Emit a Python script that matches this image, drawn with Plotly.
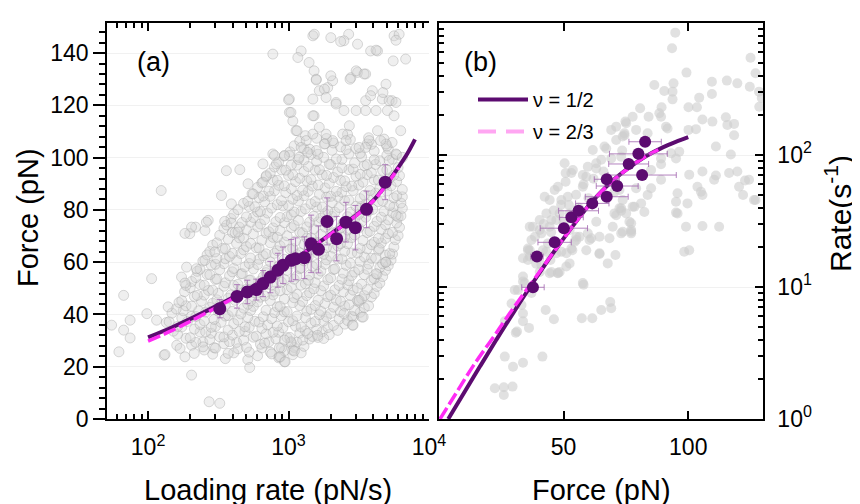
import plotly.graph_objects as go

FONT = "Liberation Sans, Arial, sans-serif"
PURPLE = "#5c0b70"
MAGENTA = "#ff2bf5"
ERRC = "rgba(160,100,175,0.8)"

# ---------------- panel (a): force vs loading rate ----------------
# dense core of single-molecule events, read as log10(loading rate) and force
core_log_rate_a = [
    2.46, 2.55, 2.61, 2.71, 2.78, 2.87, 2.93, 3.03,
    2.40, 2.47, 2.57, 2.64, 2.72, 2.81, 2.88, 2.97, 3.04, 3.09,
    2.31, 2.39, 2.48, 2.54, 2.63, 2.70, 2.80, 2.86, 2.95, 3.02, 3.11,
    2.27, 2.34, 2.44, 2.51, 2.58, 2.68, 2.75, 2.83, 2.91, 2.99, 3.06, 3.15, 3.21,
    2.21, 2.30, 2.37, 2.45, 2.54, 2.60, 2.69, 2.77, 2.84, 2.93, 3.01, 3.08, 3.17, 3.24, 3.29,
    2.18, 2.24, 2.33, 2.41, 2.48, 2.57, 2.65, 2.72, 2.81, 2.89, 2.96, 3.05, 3.12, 3.20, 3.28, 3.35,
    2.13, 2.21, 2.28, 2.37, 2.45, 2.52, 2.61, 2.69, 2.76, 2.85, 2.92, 3.00, 3.09, 3.16, 3.25, 3.32, 3.40,
    2.15, 2.24, 2.31, 2.40, 2.47, 2.55, 2.64, 2.71, 2.79, 2.88, 2.95, 3.03, 3.12, 3.19, 3.27, 3.36, 3.42, 3.46,
    2.17, 2.25, 2.34, 2.41, 2.50, 2.57, 2.66, 2.73, 2.82, 2.90, 2.97, 3.06, 3.13, 3.22, 3.30, 3.37, 3.45, 3.51,
    2.20, 2.27, 2.36, 2.44, 2.51, 2.60, 2.68, 2.75, 2.84, 2.92, 2.99, 3.08, 3.16, 3.23, 3.32, 3.40, 3.47, 3.54,
    2.22, 2.31, 2.38, 2.46, 2.55, 2.62, 2.71, 2.78, 2.87, 2.94, 3.03, 3.10, 3.19, 3.26, 3.34, 3.43, 3.50, 3.57,
    2.24, 2.33, 2.40, 2.49, 2.57, 2.64, 2.73, 2.80, 2.89, 2.97, 3.04, 3.13, 3.21, 3.28, 3.37, 3.44, 3.52, 3.59,
    2.26, 2.35, 2.43, 2.50, 2.59, 2.66, 2.75, 2.83, 2.90, 2.99, 3.06, 3.15, 3.23, 3.30, 3.39, 3.46, 3.54, 3.61,
    2.30, 2.37, 2.46, 2.54, 2.61, 2.70, 2.78, 2.85, 2.94, 3.02, 3.09, 3.18, 3.25, 3.33, 3.42, 3.49, 3.56, 3.63,
    2.31, 2.40, 2.48, 2.55, 2.64, 2.72, 2.80, 2.88, 2.95, 3.04, 3.12, 3.19, 3.28, 3.36, 3.43, 3.52, 3.59, 3.65,
    2.34, 2.42, 2.49, 2.58, 2.66, 2.73, 2.82, 2.90, 2.97, 3.06, 3.14, 3.21, 3.30, 3.38, 3.45, 3.54, 3.61, 3.67,
    2.35, 2.44, 2.51, 2.60, 2.67, 2.75, 2.84, 2.91, 2.99, 3.08, 3.15, 3.23, 3.32, 3.39, 3.47, 3.56, 3.63, 3.69,
    2.37, 2.45, 2.54, 2.61, 2.69, 2.78, 2.85, 2.93, 3.02, 3.09, 3.17, 3.26, 3.33, 3.41, 3.50, 3.57, 3.65, 3.71,
    2.39, 2.48, 2.55, 2.63, 2.72, 2.79, 2.87, 2.96, 3.03, 3.11, 3.20, 3.27, 3.35, 3.44, 3.51, 3.59, 3.67, 3.73,
    2.42, 2.49, 2.58, 2.66, 2.73, 2.82, 2.90, 2.97, 3.06, 3.14, 3.21, 3.30, 3.38, 3.45, 3.54, 3.62, 3.69, 3.74,
    2.44, 2.53, 2.60, 2.68, 2.77, 2.84, 2.92, 3.01, 3.08, 3.16, 3.25, 3.32, 3.40, 3.49, 3.56, 3.64, 3.72,
    2.46, 2.55, 2.63, 2.70, 2.79, 2.87, 2.94, 3.03, 3.11, 3.18, 3.27, 3.35, 3.42, 3.51, 3.59, 3.66, 3.75,
    2.49, 2.57, 2.65, 2.73, 2.81, 2.89, 2.97, 3.05, 3.13, 3.21, 3.29, 3.37, 3.45, 3.53, 3.61, 3.69, 3.76,
    2.51, 2.60, 2.68, 2.75, 2.84, 2.92, 2.99, 3.08, 3.16, 3.23, 3.32, 3.40, 3.47, 3.56, 3.64, 3.71, 3.78,
    2.54, 2.62, 2.70, 2.78, 2.86, 2.94, 3.02, 3.10, 3.18, 3.26, 3.34, 3.42, 3.50, 3.58, 3.66, 3.74, 3.79,
    2.56, 2.65, 2.73, 2.80, 2.89, 2.97, 3.04, 3.13, 3.21, 3.28, 3.37, 3.45, 3.52, 3.61, 3.69, 3.77,
    2.59, 2.67, 2.75, 2.83, 2.91, 2.99, 3.07, 3.15, 3.23, 3.31, 3.39, 3.47, 3.55, 3.63, 3.71, 3.78,
    2.61, 2.70, 2.78, 2.85, 2.94, 3.02, 3.09, 3.18, 3.26, 3.33, 3.42, 3.50, 3.57, 3.66, 3.74, 3.80,
    2.64, 2.72, 2.80, 2.88, 2.96, 3.04, 3.12, 3.20, 3.28, 3.36, 3.44, 3.52, 3.60, 3.68, 3.75, 3.81,
    2.68, 2.76, 2.83, 2.92, 3.00, 3.07, 3.16, 3.24, 3.31, 3.40, 3.48, 3.55, 3.64, 3.72, 3.80,
    2.71, 2.79, 2.87, 2.95, 3.03, 3.11, 3.19, 3.27, 3.35, 3.43, 3.51, 3.59, 3.67, 3.75, 3.81,
    2.74, 2.82, 2.90, 2.98, 3.06, 3.14, 3.22, 3.30, 3.38, 3.46, 3.54, 3.62, 3.70, 3.77,
    2.78, 2.86, 2.93, 3.02, 3.10, 3.17, 3.26, 3.34, 3.41, 3.50, 3.58, 3.65, 3.73, 3.81,
    2.81, 2.89, 2.97, 3.05, 3.13, 3.21, 3.29, 3.37, 3.45, 3.53, 3.61, 3.69, 3.77,
    2.84, 2.92, 3.00, 3.08, 3.16, 3.24, 3.32, 3.40, 3.48, 3.56, 3.64, 3.72, 3.79,
    2.87, 2.95, 3.03, 3.11, 3.19, 3.27, 3.35, 3.43, 3.51, 3.59, 3.67, 3.75,
    2.90, 2.98, 3.06, 3.14, 3.22, 3.30, 3.38, 3.46, 3.54, 3.62, 3.70, 3.78,
    2.93, 3.02, 3.11, 3.20, 3.29, 3.38, 3.47, 3.56, 3.65, 3.74,
    2.97, 3.07, 3.16, 3.25, 3.34, 3.43, 3.52, 3.61, 3.70, 3.77,
    3.01, 3.11, 3.21, 3.31, 3.41, 3.51, 3.61, 3.71,
    3.04, 3.15, 3.26, 3.37, 3.48, 3.59, 3.70,
    3.08, 3.20, 3.32, 3.44, 3.56, 3.68,
    3.12, 3.27, 3.42, 3.57,
]
core_force_a = [
    24.8, 23.1, 25.3, 22.7, 24.2, 25.6, 23.4, 24.6,
    26.4, 27.3, 25.1, 26.9, 25.6, 27.2, 24.9, 26.1, 27.4, 25.3,
    28.2, 29.4, 27.1, 28.8, 29.3, 27.4, 28.6, 29.5, 27.2, 28.9, 27.8,
    30.9, 29.3, 30.4, 31.4, 29.6, 30.2, 31.3, 29.1, 30.7, 31.1, 29.4, 30.6, 31.2,
    32.4, 31.1, 33.3, 32.8, 31.4, 32.1, 33.5, 31.7, 32.6, 33.2, 31.2, 32.9, 31.6, 33.4, 32.3,
    33.6, 35.2, 34.4, 33.3, 35.4, 34.0, 33.5, 35.1, 34.7, 33.2, 34.9, 35.5, 33.7, 34.3, 35.0, 33.9,
    36.9, 35.4, 37.3, 36.2, 35.1, 37.0, 36.5, 35.3, 37.4, 36.0, 35.6, 37.2, 35.2, 36.7, 37.5, 35.8, 36.3,
    37.2, 38.6, 39.3, 37.5, 38.1, 39.4, 37.8, 38.9, 37.1, 38.4, 39.5, 37.6, 38.8, 37.3, 39.1, 38.2, 37.7, 39.0,
    40.5, 41.4, 39.2, 40.9, 41.2, 39.6, 40.2, 41.5, 39.1, 40.7, 41.0, 39.4, 41.3, 39.9, 40.4, 41.1, 39.3, 40.8,
    42.1, 43.3, 41.4, 42.7, 43.5, 41.2, 42.4, 43.1, 41.6, 42.9, 41.1, 43.4, 42.0, 41.3, 42.8, 43.2, 41.5, 42.6,
    44.6, 43.2, 45.1, 44.3, 43.5, 45.4, 43.9, 44.8, 45.3, 43.1, 44.5, 45.0, 43.4, 44.2, 45.5, 43.7, 44.9, 43.3,
    45.3, 46.9, 47.4, 45.6, 46.2, 47.1, 45.2, 46.6, 47.5, 45.9, 46.4, 47.2, 45.4, 46.8, 45.1, 47.3, 46.0, 46.7,
    48.7, 47.3, 49.2, 48.1, 47.5, 49.4, 48.4, 47.1, 48.9, 49.5, 47.7, 48.3, 49.1, 47.4, 48.6, 49.3, 47.2, 48.0,
    50.2, 51.4, 49.3, 50.8, 51.1, 49.6, 50.5, 51.5, 49.1, 50.3, 51.2, 49.8, 50.9, 49.4, 51.3, 50.1, 49.5, 50.7,
    52.6, 51.2, 53.4, 52.1, 51.5, 53.1, 52.8, 51.3, 52.4, 53.5, 51.7, 52.2, 53.3, 51.1, 52.9, 51.6, 53.2, 52.0,
    54.1, 55.3, 53.6, 54.8, 55.5, 53.2, 54.4, 55.1, 53.4, 54.7, 53.1, 55.4, 54.0, 53.5, 54.9, 55.2, 53.7, 54.5,
    56.5, 55.2, 57.1, 56.3, 55.6, 57.4, 56.0, 55.3, 56.8, 57.5, 55.1, 56.6, 57.2, 55.8, 56.2, 57.3, 55.4, 56.9,
    57.3, 58.9, 59.4, 57.6, 58.2, 59.1, 57.1, 58.6, 59.5, 57.8, 58.4, 59.2, 57.4, 58.8, 57.2, 59.3, 58.0, 58.7,
    60.4, 59.2, 61.3, 60.7, 59.5, 61.1, 60.1, 59.3, 61.4, 60.5, 59.1, 60.9, 61.2, 59.6, 60.3, 61.5, 59.4, 60.8,
    62.8, 61.4, 62.2, 63.3, 61.6, 62.5, 63.4, 61.1, 62.9, 61.8, 63.2, 62.3, 61.2, 63.5, 62.0, 61.5, 62.7, 63.1,
    64.1, 65.3, 63.4, 64.7, 65.5, 63.2, 64.4, 65.0, 63.6, 64.9, 63.1, 65.4, 64.2, 63.5, 65.1, 64.6, 63.3,
    66.5, 65.1, 67.2, 66.0, 65.4, 67.4, 66.3, 65.2, 66.9, 67.5, 65.6, 66.2, 67.1, 65.3, 66.7, 67.3, 65.8,
    67.4, 68.8, 69.3, 67.2, 68.4, 69.5, 67.7, 68.1, 69.2, 67.5, 68.9, 67.1, 69.4, 68.3, 67.6, 69.1, 68.6,
    70.3, 71.4, 69.2, 70.8, 71.1, 69.5, 70.1, 71.5, 69.3, 70.6, 71.2, 69.7, 70.4, 71.3, 69.1, 70.9, 70.2,
    72.9, 71.3, 72.4, 73.5, 71.6, 72.1, 73.2, 71.2, 72.7, 73.4, 71.5, 72.3, 73.1, 71.8, 72.6, 71.4, 73.3,
    74.2, 73.4, 75.3, 74.6, 73.1, 75.1, 74.0, 73.5, 75.4, 74.4, 73.2, 74.8, 75.5, 73.7, 74.3, 75.0,
    76.7, 75.2, 77.1, 76.3, 75.5, 77.4, 76.0, 75.3, 76.8, 77.5, 75.1, 76.5, 77.2, 75.6, 76.2, 77.3,
    78.4, 77.3, 79.2, 78.8, 77.1, 78.1, 79.4, 77.6, 78.6, 79.1, 77.4, 78.3, 79.5, 77.2, 78.9, 77.7,
    80.1, 81.3, 79.4, 80.7, 81.5, 79.2, 80.4, 81.1, 79.6, 80.9, 79.1, 81.4, 80.2, 79.5, 81.2, 80.6,
    82.5, 81.2, 83.1, 82.0, 81.6, 83.4, 82.3, 81.1, 82.8, 83.5, 81.4, 82.2, 83.2, 81.7, 82.6,
    83.3, 84.7, 85.2, 83.5, 84.1, 85.4, 83.2, 84.9, 85.1, 83.7, 84.3, 85.5, 83.4, 84.6, 85.0,
    86.2, 85.3, 87.3, 86.6, 85.5, 87.1, 86.0, 85.2, 86.8, 87.4, 85.6, 86.4, 87.2, 85.4,
    88.6, 87.2, 89.4, 88.1, 87.5, 89.1, 88.4, 87.1, 88.9, 89.5, 87.4, 88.3, 89.2, 87.8,
    90.3, 91.4, 89.2, 90.8, 91.1, 89.5, 90.2, 91.3, 89.1, 90.6, 91.5, 89.4, 90.9,
    92.7, 91.3, 93.2, 92.1, 91.6, 93.4, 92.4, 91.1, 92.9, 93.5, 91.4, 92.2, 93.1,
    94.1, 95.3, 93.4, 94.7, 95.2, 93.2, 94.5, 95.4, 93.6, 94.2, 95.1, 93.3,
    96.4, 95.2, 97.1, 96.6, 95.4, 97.3, 96.1, 95.6, 96.9, 97.4, 95.3, 96.2,
    98.3, 97.2, 99.1, 98.6, 97.5, 99.3, 98.0, 97.3, 98.8, 99.4,
    100.6, 99.3, 101.2, 100.1, 99.5, 101.4, 100.3, 99.2, 100.9, 101.1,
    102.2, 103.4, 101.3, 102.8, 103.1, 101.6, 102.5, 103.3,
    104.5, 103.2, 105.3, 104.1, 103.5, 105.1, 104.4,
    106.3, 107.4, 105.6, 106.9, 105.2, 107.1,
    108.4, 107.3, 108.9, 107.6,
]
# sparse events around the core (loading rate in pN/s, force in pN)
sparse_rate_a = [
    55, 62, 67, 67, 74.5, 74.5, 98, 106, 115, 130, 139, 160, 173, 186, 204, 213, 183, 169,
    246, 272, 324, 529, 935, 875, 1070, 2850, 3330, 3100, 4900, 132, 188, 183, 221, 254,
    198, 218, 254, 268, 351, 392, 437, 299,
    124, 183, 204, 260, 361, 450, 333, 392, 515, 560, 657, 773, 773, 1014, 1014, 1073, 1130,
    1230, 1165, 1400, 1490, 1520, 1575, 1520, 1490, 1655, 1900, 2060, 2000, 2180, 2680, 2480,
    3100, 2780, 3100, 3540, 3840, 4300, 5640, 6130, 5820, 5560, 6820, 4940, 3950, 3540, 4650,
    5460, 5060, 4200, 5640, 6290, 5460, 4940, 5820, 6470, 5200, 3750, 3540, 3180, 2710, 2430,
    2570, 2060, 1850, 1655, 1800, 1575, 1490, 1335, 1230, 1370, 1190, 1014, 935, 795, 820, 695, 657,
    5820, 4940, 4420, 4200, 3400, 3180, 2880, 2480, 1780, 1610, 1040, 935, 860, 860, 946, 1100,
    1260, 1370,
    1525, 2350, 4200, 1575, 2000, 2740, 3030, 3450, 3840, 4700, 5200, 5820, 1800, 1850, 1000,
    1040, 1150, 1490, 2180, 2480, 3030, 3540, 4300, 4520,
]
sparse_force_a = [
    35.9, 25.7, 34.0, 47.3, 37.8, 31.0, 40.3, 53.7, 37.8, 24.4, 42.9, 28.2, 54.3, 51.1, 16.8, 25.1, 23.8, 27.0,
    27.6, 6.6, 6.0, 19.7, 21.9, 23.8, 26.3, 35.9, 39.0, 45.4, 60.0, 24.7, 58.1, 52.0, 57.5, 60.7,
    70.9, 73.4, 72.1, 76.0, 75.6, 75.0, 71.5, 63.9,
    87.4, 71.0, 73.4, 75.3, 95.0, 95.4, 85.5, 82.3, 90.0, 86.1, 97.6, 101.4, 139.6, 122.4, 117.3, 114.0, 110.3,
    140.8, 138.3, 136.4, 122.4, 133.2, 130.0, 116.0, 146.6, 125.6, 126.8, 129.4, 145.9, 121.1, 147.2, 144.7,
    143.4, 130.6, 132.6, 132.0, 140.8, 140.8, 146.6, 147.2, 144.9, 137.0, 137.7, 128.1, 125.6, 121.8, 122.4,
    121.8, 118.0, 118.0, 116.0, 110.3, 105.8, 105.2, 101.4, 100.1, 98.9, 106.5, 103.9, 103.9, 112.2, 109.0,
    106.5, 106.5, 109.0, 111.6, 105.2, 102.7, 109.0, 106.5, 103.9, 102.0, 100.1, 100.8, 100.8, 100.8, 97.6, 93.1, 90.6,
    77.9, 60.0, 65.2, 55.6, 39.0, 45.4, 35.9, 40.3, 30.8, 32.0, 29.5, 30.2, 27.2, 23.8, 21.9, 26.0,
    30.2, 32.7,
    147.2, 144.4, 141.1, 129.7, 131.3, 130.0, 133.2, 132.0, 123.7, 124.9, 121.8, 121.1, 126.2, 123.0, 122.1,
    117.3, 110.3, 116.0, 120.5, 118.0, 118.0, 118.0, 110.3, 106.5,
]

# binned means with standard deviations
rate_mean_a = [324, 430, 509, 590, 658, 742, 839, 912, 1045, 1122, 1297, 1448, 1633, 1880, 2200, 2560, 2990, 3590, 4880]
force_mean_a = [42.2, 46.9, 48.6, 49.5, 51.8, 54.3, 56.9, 58.8, 60.7, 61.3, 61.7, 67.0, 64.9, 75.6, 69.0, 75.3, 73.2, 80.2, 90.6]
force_err_a = [3.5, 4.5, 4.5, 4.0, 5.0, 6.0, 6.5, 7.0, 8.0, 8.0, 8.0, 11.0, 9.0, 9.0, 8.5, 7.6, 8.5, 7.0, 6.7]

# model fits
fit_rate_half_a = [100, 150, 200, 300, 500, 700, 1000, 1500, 2000, 3000, 4000, 5000, 6000, 7000, 7950]
fit_force_half_a = [31.2, 35.2, 38.3, 43.0, 49.3, 54.0, 59.5, 66.0, 70.8, 77.8, 83.5, 90.0, 96.0, 101.5, 107.0]
fit_rate_23_a = [100, 150, 200, 300, 500, 700, 1000, 1500, 2000, 3000, 4000, 5000, 6100]
fit_force_23_a = [29.8, 34.0, 37.4, 42.4, 49.0, 53.8, 59.4, 65.9, 70.7, 77.6, 83.4, 89.8, 96.2]

# ---------------- panel (b): rate vs force ----------------
force_b = [
    94.8, 93.5, 125, 99.3, 127, 86.4, 94.1, 90.4, 93.7, 93.7, 109.5, 115.5, 119.7, 124.7, 128.4, 109.5,
    104.4, 100.1, 103.5, 80.7, 89.3, 105.7, 109.7, 115.1, 115.7, 118.4, 118.4, 74.8, 84.1, 89.1, 91.7,
    100.1, 103.1, 83.7, 79.1, 74.4, 111.1, 117.1, 95.1, 96.4, 89.1, 100.4, 105.7, 111.1, 119.7, 122.8,
    120.4, 103.7, 105.1, 122, 127, 95.1, 99.7, 95.1, 89.1, 85.1, 83.7, 78.4, 73.1, 79.1, 85.1, 89.1,
    93.1, 73.5, 67.1,
    77.7, 69.1, 73.7, 61.7, 65.1, 69.1, 73.1, 50.4, 59.7, 63.1, 53.1, 57.7, 70.4, 73.7, 81.1, 82.4,
    73.1, 70.4, 76.4, 77.1, 68.4, 61.1, 52.4, 49.1, 43.1, 40.4, 45.1, 52.4, 55.1, 50.8, 47.7, 42.4,
    36.4, 105.7, 112.4, 95.7, 116.4, 128.5, 129.5, 126.4, 124.4, 110.4, 105.7, 95.7, 99.1,
    36.4, 49.1, 53.5, 64.4, 98.4, 33.7, 41.1, 44.4, 47.7, 51.1, 58, 34.4, 30.4, 37.1, 29.1, 33.7,
    33.7, 30.8, 36.1, 26.4, 42.8, 46.1, 57.3, 61.5, 65.1, 68.7, 26.4, 29.7, 33.7, 41.5, 22.4, 26,
    29.5, 26,
    33.7, 33.1, 31.3, 48.4, 52.1, 35.7, 36.4, 41.1, 43.7, 44.7, 45.1, 47.7, 53.1, 54.4, 60.4, 63.1,
    56.4, 47.1, 71.1, 72.4, 77.1, 77.1, 73.7, 70.8,
    75.1, 88.4, 91.1, 66.4, 71.1, 74.4, 71.1, 50.8, 53.7, 63.1, 59.1, 57.7, 72.4, 77.7, 75.1, 69.7,
    73.1, 77.1, 64.4, 100.4, 44.4, 46.4, 51.7, 40.4, 44.4, 37.7, 37.1, 35.7, 41.7, 47.1, 48.4, 52.4,
    51.1, 55.1, 59.7, 59.1, 67.7, 64.4, 40.4, 33.7, 31.7, 35.7, 57.7, 69.1,
    38.5, 42, 46, 49, 55, 58, 62, 66, 45, 50, 56, 60, 39, 43,
]
rate_b = [
    845, 643, 546, 421, 416, 339, 349, 305, 302, 264, 359, 366, 349, 329, 302, 290,
    272, 230, 230, 226, 230, 186, 179, 193, 169, 172, 141, 179, 195, 195, 159,
    155, 157, 146, 155, 141, 116, 101, 94, 106, 85, 71, 75, 70, 75, 64,
    57.5, 57.5, 52.7, 49.8, 45.6, 44.3, 43, 36.6, 65, 56, 49.8, 40.6, 39.5, 56, 77, 94,
    103, 108, 112,
    195, 155, 138, 109, 92, 94, 97, 86.5, 81.5, 79, 73, 70.5, 52.7, 45.6, 43, 37,
    37.8, 36.1, 31.2, 27, 23.4, 23.4, 36.1, 45.6, 36.1, 27, 32.2, 27, 22.7, 62.8, 57.5, 48.3,
    28.6, 29, 28.6, 36.1, 73, 232, 270, 45.6, 65, 65, 49.8, 51.3, 28.6,
    19, 18.5, 19, 17.8, 18.5, 16.5, 14.7, 12.7, 12.7, 14.3, 10.4, 10.7, 9.5, 9, 7.5, 6.3,
    5.5, 4.5, 4.9, 5.5, 6.7, 5.7, 5.8, 5.8, 6.7, 7.7, 2.97, 2.49, 2.67, 2.97, 1.71, 1.74,
    1.76, 1.52,
    11, 7.3, 4.6, 36.1, 41.8, 19.6, 17, 25.5, 21.4, 16, 13, 12.8, 19.6, 22, 22.7, 31.2,
    24, 32.2, 35, 39.5, 30.4, 26.2, 26.2, 17.5,
    174, 207, 164, 116, 130, 146, 164, 73, 77, 86.5, 68.5, 57.5, 54.3, 40.6, 36.1, 28.6,
    25.5, 25.5, 18, 19, 45.6, 54.3, 48.3, 32.2, 28.6, 28.6, 22.7, 19, 19, 18, 13, 15.1,
    18, 24, 25.5, 19, 15.1, 24, 13, 12, 9.5, 16, 10.7, 6.9,
    24, 30, 38, 42, 50, 60, 66, 75, 26, 31, 40, 47, 15, 18.5,
]

force_mean_b = [37.7, 39.3, 46.4, 50.1, 53.1, 56.0, 61.5, 67.3, 67.3, 71.5, 76.1, 80.0, 81.5, 82.7]
rate_mean_b = [9.95, 17.0, 21.8, 27.9, 33.7, 37.8, 43.0, 48.3, 65.5, 58.2, 85.5, 102, 70.5, 126]
force_err_b = [4.5, 2.5, 6.7, 9.5, 4.8, 8.0, 6.7, 8.6, 5.0, 8.4, 8.0, 11.6, 13.7, 6.5]

fit_force_half_b = [3.7, 10, 16.4, 23, 30, 39, 47, 56, 60.4, 64, 70, 76, 83, 90, 95, 100]
fit_rate_half_b = [1.0, 1.574, 2.495, 3.98, 6.46, 11.75, 19.5, 33.1, 42.2, 50.1, 64.6, 79.4, 97.7, 114.8, 125.9, 136.5]
fit_force_23_b = [0.4, 7, 14, 22, 30, 39, 47, 56, 64, 70, 76, 83, 88]
fit_rate_23_b = [1.0, 1.585, 2.57, 4.22, 7.0, 12.0, 19.5, 33.1, 50.1, 64.6, 79.4, 97.7, 109.6]

legend_labels = ["\u03bd = 1/2", "\u03bd = 2/3"]

x_ticks_a = [100, 1000, 10000]
x_ticktext_a = ["10<sup>2</sup>", "10<sup>3</sup>", "10<sup>4</sup>"]
y_ticks_b = [1, 10, 100, 1000]
y_ticktext_b = ["10<sup>0</sup>", "10<sup>1</sup>", "10<sup>2</sup>", "10<sup>3</sup>"]
x_ticks_b = [50, 100]

# minor tick positions for log axes (digits 2..9 of each decade)
minor_a = [d * 10 for d in range(6, 10)] + [d * 100 for d in range(2, 10)] + [d * 1000 for d in range(2, 10)]
minor_b = [d * 10 ** k for k in range(0, 3) for d in range(2, 10)]

rate_a = [10 ** v for v in core_log_rate_a] + sparse_rate_a
force_a = core_force_a + sparse_force_a

fig = go.Figure()

# ---- panel (a) traces ----
fig.add_trace(go.Scatter(
    x=rate_a, y=force_a, mode="markers", xaxis="x", yaxis="y", showlegend=False,
    marker=dict(size=10, color="rgba(214,214,214,0.38)",
                line=dict(color="rgba(165,165,165,0.42)", width=1)),
    hoverinfo="skip"))
fig.add_trace(go.Scatter(
    x=fit_rate_half_a, y=fit_force_half_a, mode="lines", xaxis="x", yaxis="y", showlegend=False,
    line=dict(color=PURPLE, width=4, shape="spline")))
fig.add_trace(go.Scatter(
    x=fit_rate_23_a, y=fit_force_23_a, mode="lines", xaxis="x", yaxis="y", showlegend=False,
    line=dict(color=MAGENTA, width=3.5, dash="13px,4px", shape="spline")))
fig.add_trace(go.Scatter(
    x=rate_mean_a, y=force_mean_a, mode="markers", xaxis="x", yaxis="y", showlegend=False,
    marker=dict(size=13, color=PURPLE),
    error_y=dict(type="data", array=force_err_a, color=ERRC, thickness=1, width=3)))

# ---- panel (b) traces ----
fig.add_trace(go.Scatter(
    x=force_b, y=rate_b, mode="markers", xaxis="x2", yaxis="y2", showlegend=False,
    marker=dict(size=10, color="rgba(205,205,205,0.6)", line=dict(width=0)),
    hoverinfo="skip"))
fig.add_trace(go.Scatter(
    x=fit_force_half_b, y=fit_rate_half_b, mode="lines", xaxis="x2", yaxis="y2", showlegend=False,
    line=dict(color=PURPLE, width=4, shape="spline")))
fig.add_trace(go.Scatter(
    x=fit_force_23_b, y=fit_rate_23_b, mode="lines", xaxis="x2", yaxis="y2", showlegend=False,
    line=dict(color=MAGENTA, width=3.5, dash="13px,4px", shape="spline")))
fig.add_trace(go.Scatter(
    x=force_mean_b, y=rate_mean_b, mode="markers", xaxis="x2", yaxis="y2", showlegend=False,
    marker=dict(size=12, color=PURPLE),
    error_x=dict(type="data", array=force_err_b, color=ERRC, thickness=1, width=3)))

# legend entries
fig.add_trace(go.Scatter(x=[None], y=[None], mode="lines", xaxis="x2", yaxis="y2",
                         name=legend_labels[0], legendgroup="g1",
                         line=dict(color=PURPLE, width=4)))
fig.add_trace(go.Scatter(x=[None], y=[None], mode="lines", xaxis="x2", yaxis="y2",
                         name=legend_labels[1], legendgroup="g2",
                         line=dict(color="#ffa6f2", width=4, dash="18px,10px")))

# page is offset by the 8px body margin, so the figure is 852x496
W, H = 852, 496
def px_x(p):
    return p / W
def px_y(p):
    return 1 - p / H

dom_y = [px_y(411), px_y(15)]
axis_common = dict(showline=True, linecolor="black", linewidth=1.5, tickcolor="black",
                   tickwidth=1.5, zeroline=False,
                   tickfont=dict(family=FONT, size=23, color="black"))

TITLE_FONT = dict(family=FONT, size=29, color="black")

fig.update_layout(
    width=W, height=H,
    margin=dict(l=0, r=0, t=0, b=0),
    paper_bgcolor="white", plot_bgcolor="white",
    font=dict(family=FONT, color="black"),
    template="none",
    xaxis=dict(domain=[px_x(99), px_x(421)], type="log", range=[1.7076, 4.0], anchor="y",
               tickmode="array", tickvals=x_ticks_a, ticktext=x_ticktext_a,
               ticks="inside", ticklen=8, mirror="allticks", showgrid=False,
               ticklabelstandoff=7,
               minor=dict(tickmode="array", tickvals=minor_a, ticks="inside", ticklen=5,
                          tickwidth=1.5, tickcolor="black", showgrid=False),
               **axis_common),
    yaxis=dict(domain=dom_y, range=[0, 151.5], anchor="x", tickmode="linear", tick0=0, dtick=20,
               ticks="outside", ticklen=12, showgrid=True, gridcolor="#f1f1f1", gridwidth=1,
               minor=dict(dtick=4, ticks="outside", ticklen=6, tickwidth=1.5,
                          tickcolor="black", showgrid=False),
               **axis_common),
    yaxis3=dict(domain=dom_y, range=[0, 151.5], anchor="x", overlaying="y",
                tickmode="linear", tick0=0, dtick=20, showticklabels=False,
                ticks="inside", ticklen=8, mirror="allticks", showgrid=False,
                minor=dict(dtick=4, ticks="inside", ticklen=5, tickwidth=1.5,
                           tickcolor="black", showgrid=False),
                **axis_common),
    xaxis2=dict(domain=[px_x(431), px_x(755)], range=[0, 130], anchor="y2",
                tickmode="array", tickvals=x_ticks_b, ticks="inside", ticklen=8,
                mirror="allticks", showgrid=False, ticklabelstandoff=7,
                **axis_common),
    yaxis2=dict(domain=dom_y, type="log", range=[0, 3], anchor="x2", side="right",
                tickmode="array", tickvals=y_ticks_b, ticktext=y_ticktext_b,
                ticks="inside", ticklen=8, mirror="allticks", showgrid=True,
                gridcolor="#f1f1f1", ticklabelstandoff=8,
                minor=dict(tickmode="array", tickvals=minor_b, ticks="inside", ticklen=5,
                           tickwidth=1.5, tickcolor="black", showgrid=False),
                **axis_common),
    showlegend=True,
    legend=dict(x=px_x(465), y=px_y(72), xanchor="left", yanchor="top",
                bgcolor="rgba(0,0,0,0)", borderwidth=0, itemwidth=50,
                font=dict(family=FONT, size=20, color="black"), tracegroupgap=3),
    annotations=[
        dict(text="(a)", x=px_x(145), y=px_y(54), xref="paper", yref="paper", showarrow=False,
             xanchor="center", yanchor="middle", font=dict(family=FONT, size=27, color="black")),
        dict(text="(b)", x=px_x(472), y=px_y(54), xref="paper", yref="paper", showarrow=False,
             xanchor="center", yanchor="middle", font=dict(family=FONT, size=27, color="black")),
        dict(text="Force (pN)", x=px_x(20), y=px_y(210), xref="paper", yref="paper",
             showarrow=False, textangle=-90, xanchor="center", yanchor="middle", font=TITLE_FONT),
        dict(text="Loading rate (pN/s)", x=px_x(260), y=px_y(482), xref="paper", yref="paper",
             showarrow=False, xanchor="center", yanchor="middle", font=TITLE_FONT),
        dict(text="Force (pN)", x=px_x(593), y=px_y(482), xref="paper", yref="paper",
             showarrow=False, xanchor="center", yanchor="middle", font=TITLE_FONT),
        dict(text="Rate(s<sup>-1</sup>)", x=px_x(830), y=px_y(206), xref="paper", yref="paper",
             showarrow=False, textangle=-90, xanchor="center", yanchor="middle",
             font=dict(family=FONT, size=30, color="black")),
    ],
)

fig.write_html("out.html")
